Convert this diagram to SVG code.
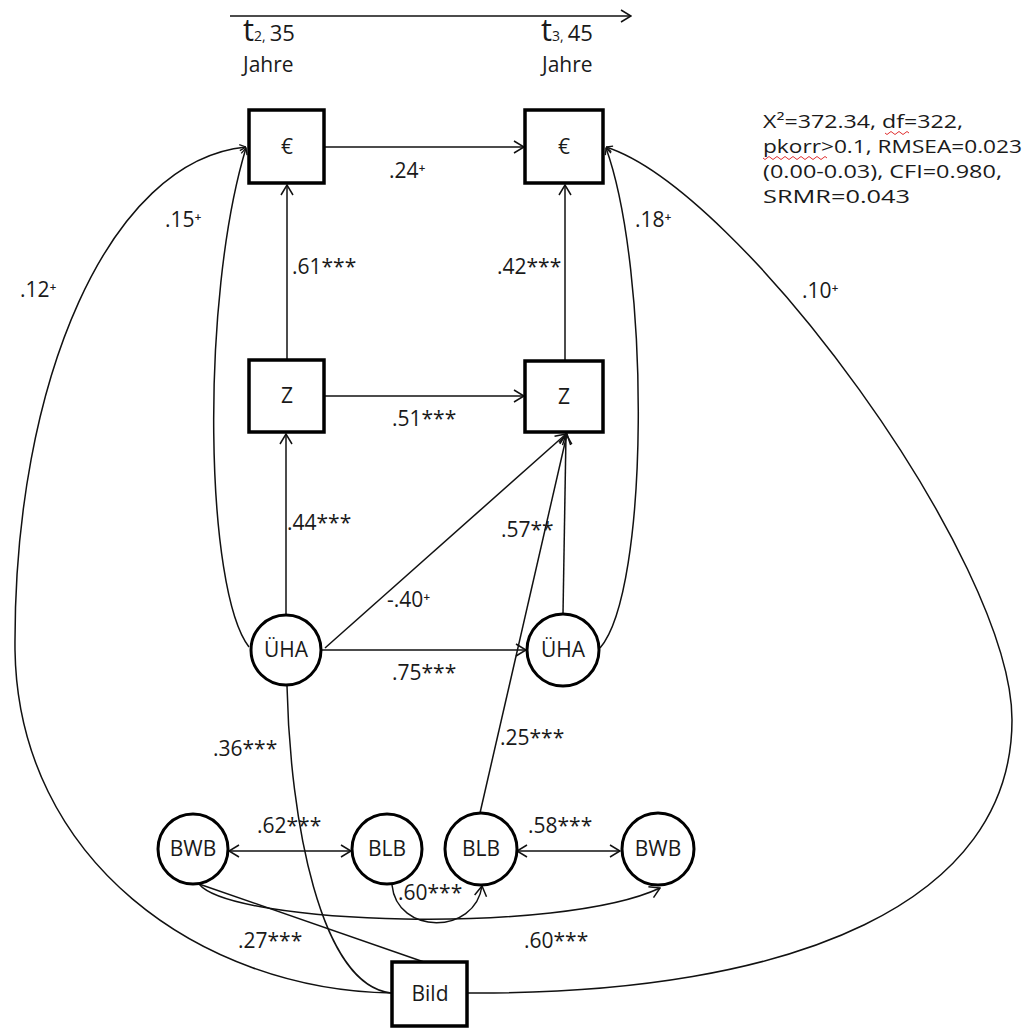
<svg xmlns="http://www.w3.org/2000/svg" width="1027" height="1028" viewBox="0 0 1027 1028">
<style>
.box{fill:#fff;stroke:#000;stroke-width:3.5}
.circ{fill:#fff;stroke:#000;stroke-width:3}
.nl{font-family:"Open Sans","DejaVu Sans",sans-serif;font-size:21px;fill:#1a1a1a;text-anchor:middle}
.lb{font-family:"Open Sans","DejaVu Sans",sans-serif;font-size:21px;fill:#1a1a1a}
.st{font-family:"Open Sans","DejaVu Sans",sans-serif;font-size:18px;fill:#1a1a1a}
.edge{fill:none;stroke:#111;stroke-width:1.5}
.arr{marker-end:url(#ah)}
.arrs{marker-end:url(#ahs)}
.bi{marker-start:url(#ah);marker-end:url(#ah)}
</style>
<defs>
<marker id="ah" viewBox="0 0 12 14" refX="11" refY="7" markerWidth="12" markerHeight="14" markerUnits="userSpaceOnUse" orient="auto-start-reverse">
<path d="M1,1 L11,7 L1,13" fill="none" stroke="#111" stroke-width="1.5"/>
</marker>
<marker id="ahs" viewBox="0 0 8 8" refX="7.5" refY="4" markerWidth="8" markerHeight="8" markerUnits="userSpaceOnUse" orient="auto">
<path d="M1,1 L7.5,4 L1,7" fill="none" stroke="#111" stroke-width="1.3"/>
</marker>
</defs>

<!-- timeline -->
<g id="timeline">
<line x1="230" y1="16" x2="631" y2="16" class="edge arr"/>
<text class="lb" x="243" y="41"><tspan font-size="31">t</tspan><tspan font-size="14">2,</tspan><tspan dx="4" font-size="22">35</tspan></text>
<text class="lb" x="243" y="72" font-size="20">Jahre</text>
<text class="lb" x="541" y="41"><tspan font-size="31">t</tspan><tspan font-size="14">3,</tspan><tspan dx="4" font-size="22">45</tspan></text>
<text class="lb" x="542" y="72" font-size="20">Jahre</text>
</g>

<!-- fit statistics -->
<g id="fit">
<text class="st" x="763" y="128" textLength="200" lengthAdjust="spacingAndGlyphs">X²=372.34, df=322,</text>
<text class="st" x="763" y="153" textLength="259" lengthAdjust="spacingAndGlyphs">pkorr&gt;0.1, RMSEA=0.023</text>
<text class="st" x="763" y="178" textLength="239" lengthAdjust="spacingAndGlyphs">(0.00-0.03), CFI=0.980,</text>
<text class="st" x="763" y="203" textLength="147" lengthAdjust="spacingAndGlyphs">SRMR=0.043</text>
<path d="M885,133 q2,3 4,0 t4,0 t4,0 t4,0 t4,0 t4,0" fill="none" stroke="#e03030" stroke-width="1"/>
<path d="M763,158 q2,3 4,0 t4,0 t4,0 t4,0 t4,0 t4,0 t4,0 t4,0 t4,0 t4,0 t4,0 t4,0 t4,0 t4,0 t4,0 t4,0" fill="none" stroke="#e03030" stroke-width="1"/>
</g>

<!-- connectors -->
<g id="connectors">
<line class="edge arr" x1="324" y1="147" x2="524" y2="147"/>
<line class="edge arr" x1="324" y1="396" x2="524" y2="396"/>
<line class="edge arr" x1="287" y1="360" x2="287" y2="185"/>
<line class="edge arr" x1="565" y1="361" x2="565" y2="185"/>
<line class="edge arr" x1="286" y1="615" x2="286" y2="434"/>
<line class="edge arr" x1="325" y1="648" x2="566" y2="434"/>
<line class="edge arr" x1="321" y1="650" x2="526" y2="650"/>
<line class="edge arr" x1="563" y1="614" x2="566" y2="434"/>
<line class="edge arr" x1="480" y1="813" x2="567" y2="434"/>
<path class="edge arrs" d="M249,647 C205,590 200,300 246,148"/>
<path class="edge arrs" d="M392,993 C200,990 18,860 15,650 C13,380 110,160 246,147"/>
<path class="edge arrs" d="M600,648 C650,590 650,270 606,148"/>
<path class="edge arrs" d="M467,993 C800,995 1012,900 1012,720 C1012,560 740,190 606,147"/>
<path class="edge" d="M287,686 C290,820 320,985 391,993"/>
<line class="edge" x1="424" y1="962" x2="199" y2="884"/>
<line class="edge bi" x1="229" y1="851" x2="351" y2="851"/>
<line class="edge bi" x1="517" y1="851" x2="620" y2="851"/>
<path class="edge arr" d="M392,885 C397,935 475,935 482,886"/>
<path class="edge arr" d="M199,884 C232,925 560,935 660,888"/>
</g>

<!-- connector labels -->
<g id="labels">
<text class="lb" x="389" y="178">.24⁺</text>
<text class="lb" x="292" y="274">.61***</text>
<text class="lb" x="497" y="274">.42***</text>
<text class="lb" x="392" y="426">.51***</text>
<text class="lb" x="287" y="530">.44***</text>
<text class="lb" x="501" y="537">.57**</text>
<text class="lb" x="387" y="607">-.40⁺</text>
<text class="lb" x="392" y="680">.75***</text>
<text class="lb" x="165" y="227">.15⁺</text>
<text class="lb" x="20" y="297">.12⁺</text>
<text class="lb" x="635" y="227">.18⁺</text>
<text class="lb" x="802" y="298">.10⁺</text>
<text class="lb" x="213" y="756">.36***</text>
<text class="lb" x="500" y="745">.25***</text>
<text class="lb" x="257" y="833">.62***</text>
<text class="lb" x="528" y="833">.58***</text>
<text class="lb" x="398" y="900">.60***</text>
<text class="lb" x="238" y="948">.27***</text>
<text class="lb" x="524" y="948">.60***</text>
</g>

<!-- nodes -->
<g id="euro_t2"><rect class="box" x="249" y="110" width="75" height="73"/><text class="nl" x="287" y="154">€</text></g>
<g id="euro_t3"><rect class="box" x="525" y="110" width="78" height="73"/><text class="nl" x="564" y="154">€</text></g>
<g id="z_t2"><rect class="box" x="249" y="360" width="75" height="72"/><text class="nl" x="287" y="403">Z</text></g>
<g id="z_t3"><rect class="box" x="525" y="361" width="78" height="71"/><text class="nl" x="564" y="404">Z</text></g>
<g id="uha_t2"><circle class="circ" cx="286" cy="650" r="35"/><text class="nl" x="286" y="657">ÜHA</text></g>
<g id="uha_t3"><circle class="circ" cx="563" cy="650" r="36"/><text class="nl" x="563" y="657">ÜHA</text></g>
<g id="bwb_left"><circle class="circ" cx="193" cy="849" r="35"/><text class="nl" x="193" y="856">BWB</text></g>
<g id="blb_left"><circle class="circ" cx="387" cy="849" r="35"/><text class="nl" x="387" y="856">BLB</text></g>
<g id="blb_right"><circle class="circ" cx="481" cy="849" r="36"/><text class="nl" x="481" y="856">BLB</text></g>
<g id="bwb_right"><circle class="circ" cx="658" cy="849" r="36"/><text class="nl" x="658" y="856">BWB</text></g>
<g id="bild"><rect class="box" x="392" y="962" width="75" height="64"/><text class="nl" x="430" y="1001">Bild</text></g>
</svg>
